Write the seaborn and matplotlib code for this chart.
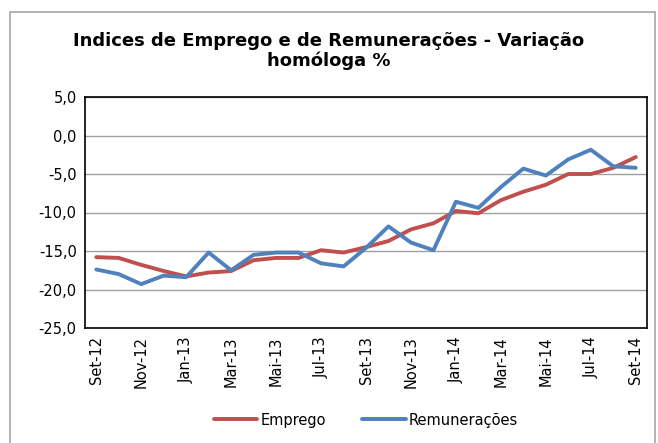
import pandas as pd
import seaborn as sns
import matplotlib.pyplot as plt
from matplotlib.patches import Rectangle

# Meses (Set-12 a Set-14)
meses = ["Set-12", "Out-12", "Nov-12", "Dez-12", "Jan-13", "Fev-13", "Mar-13", "Abr-13",
         "Mai-13", "Jun-13", "Jul-13", "Ago-13", "Set-13", "Out-13", "Nov-13", "Dez-13",
         "Jan-14", "Fev-14", "Mar-14", "Abr-14", "Mai-14", "Jun-14", "Jul-14", "Ago-14", "Set-14"]

emprego = [-15.8, -15.9, -16.8, -17.6, -18.3, -17.8, -17.6, -16.2, -15.9, -15.9, -14.9, -15.2,
           -14.5, -13.7, -12.2, -11.4, -9.8, -10.1, -8.4, -7.3, -6.4, -5.0, -5.0, -4.2, -2.8]
remuneracoes = [-17.4, -18.0, -19.3, -18.2, -18.4, -15.2, -17.5, -15.5, -15.2, -15.2, -16.6, -17.0,
                -14.6, -11.8, -13.9, -14.9, -8.6, -9.4, -6.7, -4.3, -5.2, -3.1, -1.85, -4.0, -4.2]

df = pd.DataFrame({
    "pos": list(range(len(meses))) * 2,
    "valor": emprego + remuneracoes,
    "serie": ["Emprego"] * len(meses) + ["Remunerações"] * len(meses),
})

sns.set_style("white")
plt.rcParams["font.family"] = ["DejaVu Sans"]
plt.rcParams["text.color"] = "black"
plt.rcParams["xtick.color"] = "black"
plt.rcParams["ytick.color"] = "black"

fig = plt.figure(figsize=(6.58, 4.43), dpi=100)
ax = fig.add_axes([85 / 658, 1 - 328 / 443, 562 / 658, 231 / 443])

# moldura exterior
fig.patches.append(Rectangle((10 / 658, -0.01), 645 / 658, 1 - 12 / 443 + 0.01,
                             transform=fig.transFigure, fill=False, edgecolor="#A6A6A6", lw=1.2))

sns.lineplot(data=df, x="pos", y="valor", hue="serie", ax=ax,
             palette={"Emprego": "#C0504D", "Remunerações": "#4F81BD"}, linewidth=2.8)

ax.set_xlim(-0.5, len(meses) - 0.5)
ax.set_ylim(-25, 5)
ax.set_yticks(range(-25, 6, 5))
ax.set_yticklabels([f"{v:.1f}".replace(".", ",") for v in range(-25, 6, 5)], fontsize=10.5)
ax.set_xticks(range(0, len(meses), 2))
ax.set_xticklabels(meses[::2], rotation=90, fontsize=10.5)
ax.tick_params(axis="both", length=0, pad=6, labelcolor="black")
ax.grid(axis="y", color="#A0A0A0", lw=1)
ax.set_axisbelow(True)
for s in ax.spines.values():
    s.set_color("black")
    s.set_linewidth(1.2)
ax.set_xlabel("")
ax.set_ylabel("")

fig.text(0.5, 0.885, "Indices de Emprego e de Remunerações - Variação\nhomóloga %",
         ha="center", va="center", fontsize=13, fontweight="bold", linespacing=1.1,
         color="black")

ax.legend(loc="center", bbox_to_anchor=(0.5, -(420 - 328) / 231.0), ncol=2,
          frameon=False, fontsize=10.5, handlelength=3, columnspacing=2.5, handletextpad=0.2,
          labelcolor="black")

fig.savefig("out.png", dpi=100)
